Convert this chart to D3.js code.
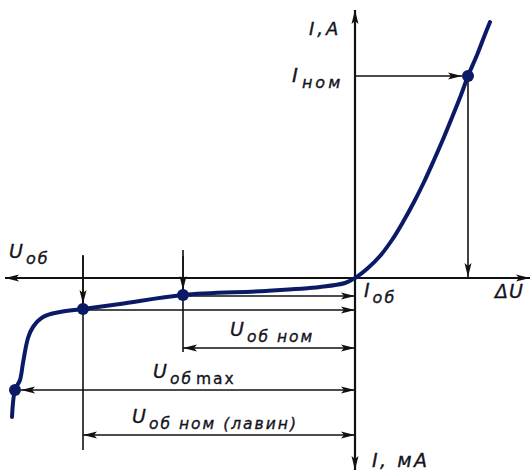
<!DOCTYPE html>
<html>
<head>
<meta charset="utf-8">
<script src="https://cdn.jsdelivr.net/npm/d3@7"></script>
<style>
  body { margin: 0; background: #fff; }
  text { font-family: "DejaVu Sans", sans-serif; font-style: italic; fill: #14141e; stroke: #14141e; stroke-width: 0.35; }
</style>
</head>
<body>
<div id="chart"></div>
<script>
// curve of the diode, voltage (arb. units) and current (arb. units)
var voltage = [-34.3, -34.0, -33.5, -33.2, -32.7, -32.2, -31.2, -29.5, -27.2, -23.5, -17.2, -8.9, -3.5, -1.0, 0,
               1.3, 2.5, 3.7, 4.8, 5.9, 6.9, 7.9, 8.9, 9.8, 10.6, 11.3, 12.2, 12.9, 13.5];
var current = [-13.9, -11.2, -10.2, -8.5, -6.0, -4.9, -3.9, -3.4, -3.1, -2.6, -1.7, -1.3, -0.9, -0.5, 0,
               1.0, 2.2, 3.8, 5.6, 7.6, 9.6, 11.8, 14.1, 16.3, 18.3, 20.2, 22.3, 24.1, 25.6];

// marked points: I nom, U ob nom, U ob max (knee), avalanche
var keyU = [11.3, -17.2, -27.2, -34.0];
var keyI = [20.2, -1.7, -3.1, -11.2];

// dimension arrows (current level of the arrow, from voltage)
var dimNames = ["U_об ном", "U_об_max", "U_об ном (лавин)"];
var dimFrom = [-17.2, -34.0, -27.2];
var dimLevel = [-7.0, -11.2, -15.7];

var width = 532, height = 473;

var x = d3.scaleLinear().domain([-35, 17.5]).range([5, 530]);
var y = d3.scaleLinear().domain([-19.2, 26.8]).range([470, 10]);

var svg = d3.select("#chart")
  .append("svg")
    .attr("width", width)
    .attr("height", height);

// arrow heads
var defs = svg.append("defs");
defs.append("marker")
    .attr("id", "head")
    .attr("viewBox", "0 0 14 8")
    .attr("refX", 14).attr("refY", 4)
    .attr("markerWidth", 14).attr("markerHeight", 8)
    .attr("markerUnits", "userSpaceOnUse")
    .attr("orient", "auto-start-reverse")
  .append("path")
    .attr("d", "M0,0.5 L14,4 L0,7.5 L3,4 Z")
    .attr("fill", "#111");

var data = voltage.map(function(v, i) { return {u: v, i: current[i]}; });

// axes
svg.append("line")
    .attr("x1", x(-35)).attr("x2", x(17.5))
    .attr("y1", y(0)).attr("y2", y(0))
    .attr("stroke", "#111").attr("stroke-width", 2.2)
    .attr("marker-start", "url(#head)")
    .attr("marker-end", "url(#head)");
svg.append("line")
    .attr("x1", x(0)).attr("x2", x(0))
    .attr("y1", y(-19.2)).attr("y2", y(26.8))
    .attr("stroke", "#111").attr("stroke-width", 2.2)
    .attr("marker-start", "url(#head)")
    .attr("marker-end", "url(#head)");

var thin = function(sel) { return sel.attr("stroke", "#111").attr("stroke-width", 1.6).attr("fill", "none"); };

// I nom guides
thin(svg.append("line"))
    .attr("x1", x(0)).attr("y1", y(keyI[0]))
    .attr("x2", x(keyU[0]) - 6).attr("y2", y(keyI[0]))
    .attr("marker-end", "url(#head)");
thin(svg.append("line"))
    .attr("x1", x(keyU[0])).attr("y1", y(keyI[0]))
    .attr("x2", x(keyU[0])).attr("y2", y(0) - 1)
    .attr("marker-end", "url(#head)");

// vertical extension lines of reverse points
thin(svg.append("line"))
    .attr("x1", x(keyU[1])).attr("y1", y(2.8))
    .attr("x2", x(keyU[1])).attr("y2", y(-7.4));
thin(svg.append("line"))
    .attr("x1", x(keyU[2])).attr("y1", y(2.3))
    .attr("x2", x(keyU[2])).attr("y2", y(-17.2));
[1, 2].forEach(function(k) {
  thin(svg.append("line"))
      .attr("x1", x(keyU[k])).attr("y1", y(2.2))
      .attr("x2", x(keyU[k])).attr("y2", y(keyI[k]) - 5)
      .attr("marker-end", "url(#head)");
});

// horizontal arrows from reverse points to the axis
[1, 2].forEach(function(k) {
  thin(svg.append("line"))
      .attr("x1", x(keyU[k])).attr("y1", y(keyI[k]) + 1)
      .attr("x2", x(0)).attr("y2", y(keyI[k]) + 1)
      .attr("marker-end", "url(#head)");
});

// dimension arrows
dimFrom.forEach(function(u, k) {
  thin(svg.append("line"))
      .attr("x1", x(u) + (k == 1 ? 6 : 0)).attr("y1", y(dimLevel[k]))
      .attr("x2", x(0)).attr("y2", y(dimLevel[k]))
      .attr("marker-start", "url(#head)")
      .attr("marker-end", "url(#head)");
});

// the curve
svg.append("path")
    .datum(data)
    .attr("fill", "none")
    .attr("stroke", "#0b1a66")
    .attr("stroke-width", 4)
    .attr("stroke-linecap", "round")
    .attr("d", d3.line()
      .x(function(d) { return x(d.u); })
      .y(function(d) { return y(d.i); })
      .curve(d3.curveCatmullRom));

svg.selectAll("circle.key")
    .data(keyU)
    .enter().append("circle")
    .attr("class", "key")
    .attr("cx", function(d) { return x(d); })
    .attr("cy", function(d, i) { return y(keyI[i]); })
    .attr("r", 6)
    .attr("fill", "#0b1a66");

// labels: main letter + lowered subscript (+ optional upright tail)
function label(px, py, main, sub, size, subSize, spacing, tail) {
  var t = svg.append("text").attr("x", px).attr("y", py)
    .style("font-size", size + "px")
    .style("letter-spacing", spacing + "px");
  t.append("tspan").text(main);
  if (sub) {
    t.append("tspan").attr("dx", 1).attr("dy", size * 0.3)
      .style("font-size", subSize + "px").text(sub);
  }
  if (tail) {
    t.append("tspan").attr("dx", 3)
      .style("font-size", subSize + "px").style("font-style", "normal").text(tail);
  }
  return t;
}

label(309, 35, "I,A", null, 18, 0, 3);
label(292, 82, "I", "ном", 20, 16, 3);
label(9, 258, "U", "об", 19, 16, 2);
label(364, 297, "I", "об", 19, 16, 2);
label(495, 298, "ΔU", null, 19, 0, 1);
label(372, 467, "I, мА", null, 19, 0, 2.5);

dimNames.forEach(function(n, k) {
  var parts = n.split("_");
  var px = [230, 153, 132][k];
  label(px, y(dimLevel[k]) - 12, parts[0], parts[1], 19, 15.5, 2, parts[2]);
});
</script>
</body>
</html>
